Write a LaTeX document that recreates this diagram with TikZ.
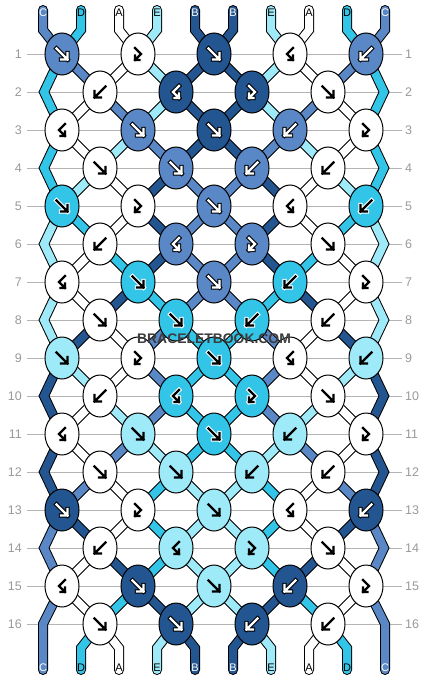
\documentclass[tikz,border=0pt]{standalone}
\usepackage{fontspec}
\setmainfont{Liberation Sans}
\usetikzlibrary{shapes.geometric}

\definecolor{colA}{HTML}{FFFFFF}
\definecolor{colB}{HTML}{235591}
\definecolor{colC}{HTML}{5A87C6}
\definecolor{colD}{HTML}{33C5E8}
\definecolor{colE}{HTML}{9EEAF9}
\colorlet{txtA}{black}
\colorlet{txtB}{white}
\colorlet{txtC}{white}
\colorlet{txtD}{black}
\colorlet{txtE}{black}
\definecolor{rowgray}{HTML}{9A9A9A}
\definecolor{linegray}{HTML}{B4B4B4}
\definecolor{markgray}{HTML}{3C3C3C}

\pgfdeclarelayer{grid}
\pgfdeclarelayer{bands}
\pgfsetlayers{grid,bands,main}

% arrow drawn twice: outline, then face
\def\twice#1{%
  \draw[arrow under, line width=4.4pt, line cap=rect] #1;
  \draw[arrow over, line width=2.4pt, line cap=rect] #1;
}

\tikzset{
  knotshape/.style={ellipse, draw=black, line width=1pt, minimum width=34pt,
    minimum height=42pt, inner sep=0pt},
  band/.style={double=col#1, double distance=8pt, line width=1pt, line join=miter},
  endband/.style={band=#1, line cap=round},
  rowlbl/.style={text=rowgray, font=\fontsize{12.5}{14}\selectfont, inner sep=0pt},
  strlbl/.style={font=\fontsize{11}{12}\selectfont, inner sep=0pt},
  wmark/.style={font=\bfseries\fontsize{13.9}{15}\selectfont, text=markgray, inner sep=0pt},
  arrow under/.style={draw=none},
  arrow over/.style={draw=black},
  lookA/.style={arrow under/.style={draw=none}, arrow over/.style={draw=black}},
  lookE/.style={lookA},
  lookD/.style={arrow under/.style={draw=white}, arrow over/.style={draw=black}},
  lookB/.style={arrow under/.style={draw=black}, arrow over/.style={draw=white}},
  lookC/.style={lookB},
  pics/kf/.style={code={\twice{(-5.5,-5.5) -- (5.5,5.5) (5.5,-1) -- (5.5,5.5) -- (-1,5.5)}}},
  pics/kb/.style={code={\twice{(5.5,-5.5) -- (-5.5,5.5) (-5.5,-1) -- (-5.5,5.5) -- (1,5.5)}}},
  pics/kfb/.style={code={\twice{(-3,-6) -- (3,0) -- (-3,6) (-3,1.5) -- (-3,6) -- (1.5,6)}}},
  pics/kbf/.style={code={\twice{(3,-6) -- (-3,0) -- (3,6) (3,1.5) -- (3,6) -- (-1.5,6)}}},
}

% strand colours after each row (row 0 = top)
\def\strandlist{
{C,D,A,E,B,B,E,A,D,C},
{D,C,A,E,B,B,E,A,C,D},
{D,A,C,E,B,B,E,C,A,D},
{D,A,E,C,B,B,C,E,A,D},
{D,E,A,B,C,C,B,A,E,D},
{E,D,A,B,C,C,B,A,D,E},
{E,A,D,B,C,C,B,D,A,E},
{E,A,B,D,C,C,D,B,A,E},
{E,B,A,C,D,D,C,A,B,E},
{B,E,A,C,D,D,C,A,E,B},
{B,A,E,C,D,D,C,E,A,B},
{B,A,C,E,D,D,E,C,A,B},
{B,C,A,D,E,E,D,A,C,B},
{C,B,A,D,E,E,D,A,B,C},
{C,A,B,D,E,E,D,B,A,C},
{C,A,D,B,E,E,B,D,A,C},
{C,D,A,E,B,B,E,A,D,C}}

% knot colour / knot type, row by row
\def\knotlist{
{C/f,A/fb,B/f,A/bf,C/b},
{A/b,B/bf,B/fb,A/f},
{A/bf,C/f,B/f,C/b,A/fb},
{A/f,C/f,C/b,A/b},
{D/f,A/fb,C/f,A/bf,D/b},
{A/b,C/bf,C/fb,A/f},
{A/bf,D/f,C/f,D/b,A/fb},
{A/f,D/f,D/b,A/b},
{E/f,A/fb,D/f,A/bf,E/b},
{A/b,D/bf,D/fb,A/f},
{A/bf,E/f,D/f,E/b,A/fb},
{A/f,E/f,E/b,A/b},
{B/f,A/fb,E/f,A/bf,B/b},
{A/b,E/bf,E/fb,A/f},
{A/bf,B/f,E/f,B/b,A/fb},
{A/f,B/f,B/b,A/b}}

\begin{document}
\begin{tikzpicture}[x=1pt,y=-1pt]
\begin{pgfonlayer}{grid}
\fill[white] (0,0) rectangle (430,680);
\end{pgfonlayer}
\useasboundingbox (0,0) rectangle (430,680);

% row numbers and rules
\foreach \r in {1,...,16} {
  \pgfmathsetmacro\y{54+38*(\r-1)}
  \node[rowlbl, anchor=east] (ll\r) at (22,\y) {\r};
  \node[rowlbl, anchor=west] (rl\r) at (405,\y) {\r};
  \begin{pgfonlayer}{grid}
  \draw[linegray, line width=1pt] ([xshift=5pt]ll\r.east) -- ([xshift=-3pt]rl\r.west);
  \end{pgfonlayer}
}

% knots
\foreach \row [count=\r] in \knotlist {
  \foreach \kc/\kt [count=\k] in \row {
    \pgfmathtruncatemacro\p{mod(\r,2)==1 ? 2*\k-1 : 2*\k}
    \pgfmathsetmacro\x{62+38*(\p-1)}
    \pgfmathsetmacro\y{54+38*(\r-1)}
    \node[knotshape, fill=col\kc] (k\r-\p) at (\x,\y) {};
    \pic[look\kc] at (k\r-\p.center) {k\kt};
  }
}

% strands
\begin{pgfonlayer}{bands}
\foreach \row [count=\i from 0] in \strandlist {
  \foreach \sc [count=\q] in \row {
    \pgfmathsetmacro\sx{43+38*(\q-1)}
    \ifnum\i=0
      \pgfmathtruncatemacro\pa{\q-mod(\q+1,2)}
      \coordinate (t\q) at (\sx,10);
      \coordinate (tb\q) at (\sx,30);
      \draw[endband=\sc] (t\q) -- (tb\q) -- (k1-\pa.center);
      \node[strlbl, text=txt\sc] (tl\q) at (\sx,13) {\sc};
    \else\ifnum\i=16
      \coordinate (b\q) at (\sx,670);
      \ifnum\q=1
        \coordinate (bb\q) at (43,624);
        \draw[endband=\sc] (k15-1.center) -- (bb\q) -- (b\q);
      \else\ifnum\q=10
        \coordinate (bb\q) at (385,624);
        \draw[endband=\sc] (k15-9.center) -- (bb\q) -- (b\q);
      \else
        \pgfmathtruncatemacro\pa{\q-mod(\q,2)}
        \coordinate (bb\q) at (\sx,648);
        \draw[endband=\sc] (k16-\pa.center) -- (bb\q) -- (b\q);
      \fi\fi
      \node[strlbl, text=txt\sc] (bl\q) at (\sx,668) {\sc};
    \else
      \pgfmathtruncatemacro\j{\i+1}
      \ifnum\q>1 \ifnum\q<10
        \pgfmathtruncatemacro\pa{\q-mod(\q+\i,2)}
        \pgfmathtruncatemacro\pb{\q-mod(\q+\i+1,2)}
        \draw[band=\sc] (k\i-\pa.center) -- (k\j-\pb.center);
      \fi\fi
      \ifodd\i \ifnum\i<14
        \pgfmathtruncatemacro\j{\i+2}
        \pgfmathsetmacro\ey{54+38*\i}
        \ifnum\q=1
          \coordinate (e\i-1) at (44,\ey);
          \draw[band=\sc] (k\i-1.center) -- (e\i-1) -- (k\j-1.center);
        \fi
        \ifnum\q=10
          \coordinate (e\i-10) at (384,\ey);
          \draw[band=\sc] (k\i-9.center) -- (e\i-10) -- (k\j-9.center);
        \fi
      \fi\fi
    \fi\fi
  }
}
\end{pgfonlayer}

% watermark
\node[wmark] (wm) at (214,339) {BRACELETBOOK.COM};
\end{tikzpicture}
\end{document}
